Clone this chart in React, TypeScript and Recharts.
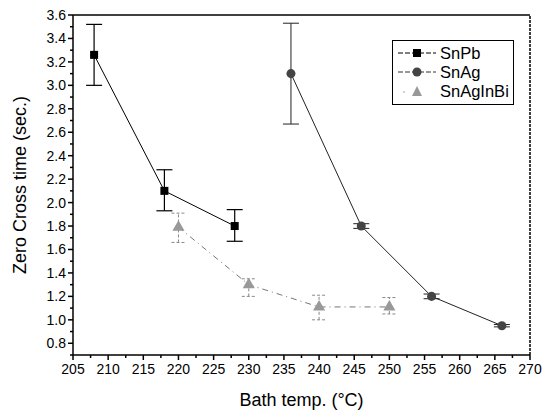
import React from 'react';
import {
  ScatterChart,
  Scatter,
  XAxis,
  YAxis,
  ErrorBar,
  ReferenceLine,
} from 'recharts';

// values
const snPb = [
  { temp: 208, time: 3.26, err: [0.26, 0.26] },
  { temp: 218, time: 2.1, err: [0.17, 0.18] },
  { temp: 228, time: 1.8, err: [0.13, 0.14] },
];

const snAg = [
  { temp: 236, time: 3.1, err: [0.43, 0.43] },
  { temp: 246, time: 1.8, err: [0.02, 0.02] },
  { temp: 256, time: 1.2, err: [0.02, 0.02] },
  { temp: 266, time: 0.95, err: [0.01, 0.01] },
];

const snAgInBi = [
  { temp: 220, time: 1.79, err: [0.13, 0.12] },
  { temp: 230, time: 1.3, err: [0.1, 0.05] },
  { temp: 240, time: 1.11, err: [0.11, 0.1] },
  { temp: 250, time: 1.11, err: [0.06, 0.08] },
];

const xTicks = [205, 207.5, 210, 212.5, 215, 217.5, 220, 222.5, 225, 227.5, 230, 232.5, 235, 237.5, 240, 242.5, 245, 247.5, 250, 252.5, 255, 257.5, 260, 262.5, 265, 267.5, 270];
const yTicks = [0.7, 0.8, 0.9, 1.0, 1.1, 1.2, 1.3, 1.4, 1.5, 1.6, 1.7, 1.8, 1.9, 2.0, 2.1, 2.2, 2.3, 2.4, 2.5, 2.6, 2.7, 2.8, 2.9, 3.0, 3.1, 3.2, 3.3, 3.4, 3.5, 3.6];

const FONT = 'Arial, "Liberation Sans", sans-serif';

const XTick = ({ x, y, payload }: any) => {
  const v = payload.value;
  const major = v % 5 === 0;
  return (
    <g>
      <line x1={x} x2={x} y1={y} y2={y + (major ? 5 : 3)} stroke="#000" strokeWidth={1.5} />
      {major && (
        <text x={x} y={y + 19} textAnchor="middle" fontSize={14} fontFamily={FONT} fill="#000">
          {v}
        </text>
      )}
    </g>
  );
};

const YTick = ({ x, y, payload }: any) => {
  const v = payload.value;
  const major = Math.round(v * 10) % 2 === 0 && v > 0.75;
  return (
    <g>
      <line x1={x} x2={x - (major ? 5 : 3)} y1={y} y2={y} stroke="#000" strokeWidth={1.5} />
      {major && (
        <text x={x - 7} y={y + 5} textAnchor="end" fontSize={14} fontFamily={FONT} fill="#000">
          {v.toFixed(1)}
        </text>
      )}
    </g>
  );
};

const LegendBox = () => (
  <svg width={123} height={66} style={{ display: 'block' }}>
    <rect x={0.5} y={0.5} width={121} height={64} fill="#fff" stroke="#000" strokeWidth={1} />
    <g>
      <line x1={6} x2={44} y1={13} y2={13} stroke="#000" strokeDasharray="5 2" />
      <rect x={21} y={9} width={8} height={8} fill="#000" />
      <text x={48} y={19} fontSize={16.5} fontFamily={FONT}>SnPb</text>
    </g>
    <g>
      <line x1={6} x2={44} y1={32} y2={32} stroke="#333" strokeDasharray="5 2" />
      <circle cx={25} cy={32} r={4.5} fill="#444" />
      <text x={48} y={38} fontSize={16.5} fontFamily={FONT}>SnAg</text>
    </g>
    <g>
      <circle cx={12} cy={52} r={0.8} fill="#999" />
      <polygon points="25,46 30,56 20,56" fill="#999" />
      <text x={48} y={57} fontSize={16.5} fontFamily={FONT}>SnAgInBi</text>
    </g>
  </svg>
);

export default function App() {
  return (
    <div style={{ position: 'absolute', left: 0, top: 0, width: 546, height: 414, background: '#fff' }}>
      <ScatterChart width={546} height={414} margin={{ top: 15, right: 16, left: 0, bottom: 0 }}>
        <XAxis
          type="number"
          dataKey="temp"
          domain={[205, 270]}
          ticks={xTicks}
          interval={0}
          tick={<XTick />}
          tickSize={0}
          tickMargin={0}
          height={59}
          stroke="#000"
          strokeWidth={1.5}
          label={{ value: 'Bath temp. (°C)', position: 'insideBottom', offset: 8, fontSize: 18, fontFamily: FONT, fill: '#000' }}
        />
        <YAxis
          type="number"
          dataKey="time"
          domain={[0.7, 3.6]}
          ticks={yTicks}
          interval={0}
          tick={<YTick />}
          tickSize={0}
          tickMargin={0}
          width={73}
          stroke="#000"
          strokeWidth={1.5}
          label={{ value: 'Zero Cross time (sec.)', angle: -90, position: 'insideLeft', offset: 20, fontSize: 18, fontFamily: FONT, fill: '#000', style: { textAnchor: 'middle' } }}
        />
        <ReferenceLine y={3.6} stroke="#000" strokeWidth={1.5} />
        <ReferenceLine x={270} stroke="#000" strokeWidth={1.5} strokeDasharray="3 1" />
        <Scatter
          name="SnAgInBi"
          data={snAgInBi}
          fill="#999"
          shape="triangle"
          line={{ stroke: '#777', strokeWidth: 1, strokeDasharray: '6 4 1 4' }}
          isAnimationActive={false}
        >
          <ErrorBar dataKey="err" direction="y" width={7} stroke="#888" strokeWidth={1} strokeDasharray="3 2" />
        </Scatter>
        <Scatter
          name="SnPb"
          data={snPb}
          fill="#000"
          shape="square"
          line={{ stroke: '#000', strokeWidth: 1 }}
          isAnimationActive={false}
        >
          <ErrorBar dataKey="err" direction="y" width={8} stroke="#000" strokeWidth={1.2} />
        </Scatter>
        <Scatter
          name="SnAg"
          data={snAg}
          fill="#444"
          shape="circle"
          line={{ stroke: '#222', strokeWidth: 1 }}
          isAnimationActive={false}
        >
          <ErrorBar dataKey="err" direction="y" width={8} stroke="#222" strokeWidth={1} />
        </Scatter>
      </ScatterChart>
      <div style={{ position: 'absolute', left: 392, top: 40 }}>
        <LegendBox />
      </div>
    </div>
  );
}
